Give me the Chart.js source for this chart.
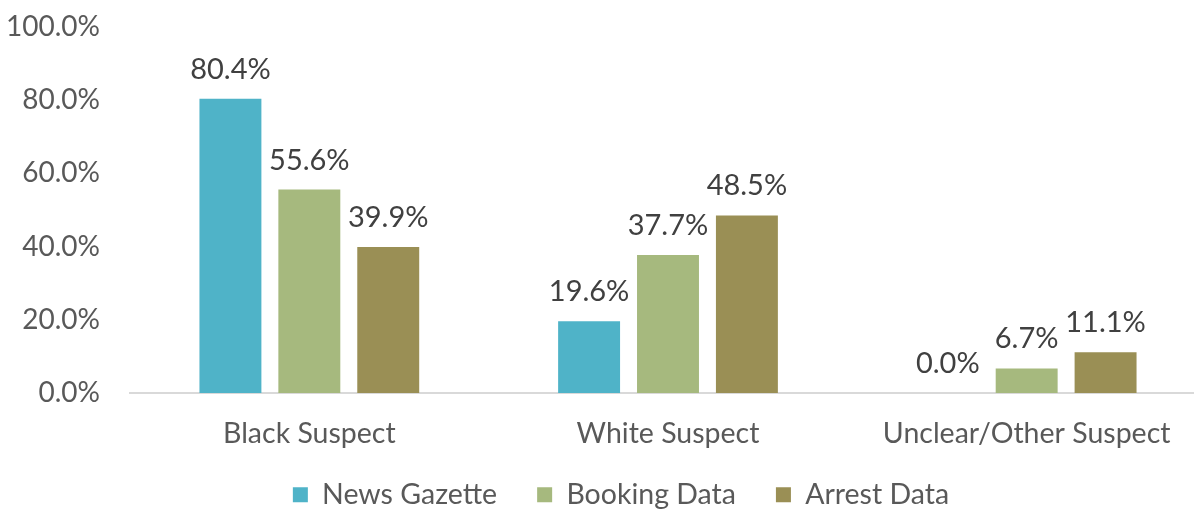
<!DOCTYPE html>
<html>
<head>
<meta charset="utf-8">
<script src="https://cdn.jsdelivr.net/npm/chart.js@4.4.1/dist/chart.umd.min.js"></script>
<style>
    html, body { margin: 0; padding: 0; overflow: hidden; background: #fff; }
    #wrap { width: 1206px; height: 510px; overflow: hidden; }
</style>
</head>
<body>
<div id="wrap"><canvas id="chart" width="1206" height="519"></canvas></div>
<script>
const categories = ["Black Suspect", "White Suspect", "Unclear/Other Suspect"];
const newsGazette = [80.4, 19.6, 0.0];
const bookingData = [55.6, 37.7, 6.7];
const arrestData = [39.9, 48.5, 11.1];
const seriesNames = ["News Gazette", "Booking Data", "Arrest Data"];
const seriesColors = ["#4FB3C8", "#A6B97E", "#9A8F55"];

const FONT = "Lato, 'Open Sans', sans-serif";

// draws the value above each bar
const valueLabels = {
    id: "valueLabels",
    afterLayout(chart) {
        // legend sits a bit right of centre in the original
        chart.legend.left += 18;
        chart.legend.right += 18;
    },
    afterDatasetsDraw(chart) {
        let ctx = chart.ctx;
        ctx.save();
        ctx.font = "29px " + FONT;
        ctx.fillStyle = "#404040";
        ctx.textAlign = "center";
        ctx.textBaseline = "alphabetic";
        chart.data.datasets.forEach((ds, i) => {
            chart.getDatasetMeta(i).data.forEach((bar, j) => {
                ctx.fillText(ds.data[j].toFixed(1) + "%", bar.x, bar.y - 20);
            });
        });
        ctx.restore();
    }
};

new Chart(document.getElementById("chart").getContext("2d"), {
    type: "bar",
    data: {
        labels: categories,
        datasets: [newsGazette, bookingData, arrestData].map((d, i) => ({
            label: seriesNames[i],
            data: d,
            backgroundColor: seriesColors[i],
            barPercentage: 0.785,
            categoryPercentage: 0.66
        }))
    },
    options: {
        responsive: false,
        animation: false,
        layout: { padding: { top: 27, right: 0, left: 0, bottom: 0 } },
        plugins: {
            tooltip: { enabled: false },
            legend: {
                position: "bottom",
                labels: {
                    font: { family: FONT, size: 28.5 },
                    color: "#595959",
                    boxWidth: 15,
                    boxHeight: 15,
                    padding: 40
                }
            }
        },
        scales: {
            x: {
                grid: { display: false, drawTicks: false },
                border: { display: true, color: "#D9D9D9", width: 2 },
                ticks: {
                    font: { family: FONT, size: 28.5 },
                    color: "#595959",
                    padding: 24
                },
                afterFit: s => {
                    s.height = 47.5;
                    s._computeLabelArea = () => undefined; // don't clip labels to the short axis box
                }
            },
            y: {
                min: 0,
                max: 100,
                grid: { display: false, drawTicks: false },
                border: { display: false },
                ticks: {
                    stepSize: 20,
                    font: { family: FONT, size: 28 },
                    color: "#595959",
                    padding: 30,
                    callback: v => v.toFixed(1) + "%"
                },
                afterFit: s => {
                    s.width = 130;
                    s.paddingTop = 0;
                    s.paddingBottom = 0;
                }
            }
        }
    },
    plugins: [valueLabels]
});
</script>
</body>
</html>
